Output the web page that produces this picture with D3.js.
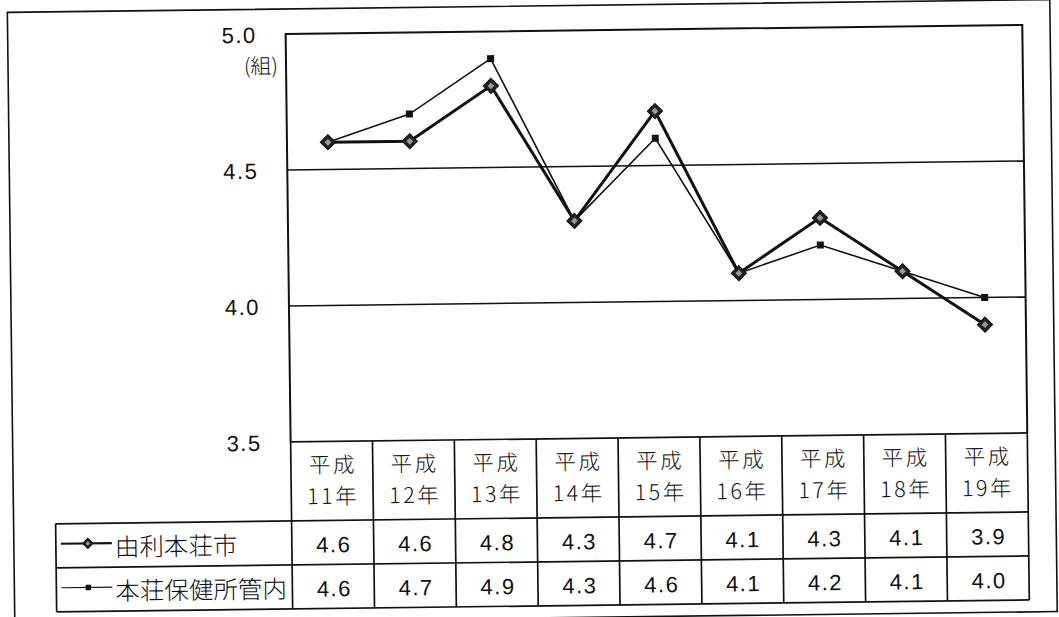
<!DOCTYPE html>
<html lang="ja">
<head>
<meta charset="utf-8">
<script src="https://cdn.jsdelivr.net/npm/d3@7"></script>
<style>
  html, body { margin: 0; padding: 0; background: #fff; }
  svg { display: block; }
  .num { font-family: "Liberation Sans", Arial, sans-serif; font-size: 22px; letter-spacing: 1.5px; fill: #111; }
  .jp { font-family: "Noto Sans CJK JP", "Noto Sans CJK SC", sans-serif; font-weight: 300; fill: #111; }
</style>
</head>
<body>
<svg id="chart" width="1059" height="617"></svg>
<script>
// 年次（平成11年〜19年）
const years = ["11年", "12年", "13年", "14年", "15年", "16年", "17年", "18年", "19年"];
const era = "平成";

// 系列名
const seriesNames = ["由利本荘市", "本荘保健所管内"];

// 1世帯あたりの値（組）
const yurihonjo = [4.6, 4.6, 4.8, 4.3, 4.7, 4.1, 4.3, 4.1, 3.9];
const honjoHC   = [4.6, 4.7, 4.9, 4.3, 4.6, 4.1, 4.2, 4.1, 4.0];

// 縦軸目盛
const yTicks = [3.5, 4.0, 4.5, 5.0];
const unitLabel = "(組)";

const svg = d3.select("#chart");
svg.append("rect").attr("width", 1059).attr("height", 617).attr("fill", "#fff");

// whole sheet sits at a slight tilt
const root = svg.append("g").attr("transform", "rotate(-0.7, 530, 308)");

const plotL = 289, plotR = 1025.7, plotT = 31, plotB = 439;
const row1T = 518, row2T = 562, tableB = 606, legendL = 53;

const x = d3.scaleBand().domain(years).range([plotL, plotR]).padding(0);
const y = d3.scaleLinear().domain([3.5, 5.0]).range([plotB, plotT]);
const bw = x.bandwidth();
const cx = d => x(d) + bw / 2;

// outer frame
root.append("rect")
  .attr("x", 11).attr("y", 6).attr("width", 1042.5).attr("height", 612)
  .attr("fill", "none").attr("stroke", "#111").attr("stroke-width", 1.6);

// horizontal gridlines
root.append("g").selectAll("line")
  .data(yTicks.filter(t => t > 3.5 && t < 5.0))
  .join("line")
  .attr("x1", plotL).attr("x2", plotR)
  .attr("y1", d => y(d)).attr("y2", d => y(d))
  .attr("stroke", "#111").attr("stroke-width", 1.5);

// plot frame
root.append("path")
  .attr("d", `M${plotL},${plotB}V${plotT}H${plotR}V${plotB}`)
  .attr("fill", "none").attr("stroke", "#111").attr("stroke-width", 2);

// y axis labels
const yAxis = d3.axisLeft(y).tickValues(yTicks).tickFormat(d3.format(".1f")).tickSize(0).tickPadding(29);
const ya = root.append("g").attr("transform", `translate(${plotL},0)`).call(yAxis);
ya.select(".domain").remove();
ya.selectAll("text").attr("class", "num").attr("font-size", null).attr("font-family", null)
  .attr("fill", null).attr("dy", "0.36em");

root.append("text").attr("class", "jp")
  .attr("x", 264).attr("y", 63).attr("dy", "0.35em")
  .attr("text-anchor", "middle").attr("font-size", 21)
  .text(unitLabel);

// data table grid
const tbl = root.append("g").attr("stroke", "#111").attr("stroke-width", 1.7).attr("fill", "none");
tbl.append("line").attr("x1", plotL).attr("x2", plotR).attr("y1", plotB).attr("y2", plotB);
[row1T, row2T, tableB].forEach(v =>
  tbl.append("line").attr("x1", legendL).attr("x2", plotR).attr("y1", v).attr("y2", v));
tbl.append("line").attr("x1", legendL).attr("x2", legendL).attr("y1", row1T).attr("y2", tableB);
tbl.selectAll("line.col").data(years.concat(["end"]))
  .join("line").attr("class", "col")
  .attr("x1", (d, i) => plotL + i * bw).attr("x2", (d, i) => plotL + i * bw)
  .attr("y1", plotB).attr("y2", tableB);

// header: era over year in each cell
const hdr = root.append("g").attr("class", "jp").attr("font-size", 21.5)
  .attr("letter-spacing", "2.5px").attr("text-anchor", "middle");
hdr.selectAll("text.era").data(years).join("text").attr("class", "era")
  .attr("x", d => cx(d) + 1).attr("y", 462.5).attr("dy", "0.35em").text(era);
hdr.selectAll("text.yr").data(years).join("text").attr("class", "yr")
  .attr("x", d => cx(d) + 1).attr("y", 494).attr("dy", "0.35em").text(d => d);

// table values
const rows = [yurihonjo, honjoHC];
const rowMid = [ (row1T + row2T) / 2 + 2, (row2T + tableB) / 2 + 2 ];
rows.forEach((vals, r) => {
  root.append("g").selectAll("text").data(vals).join("text")
    .attr("class", "num").attr("text-anchor", "middle")
    .attr("x", (d, i) => cx(years[i]) + 1).attr("y", rowMid[r]).attr("dy", "0.36em")
    .text(d => d3.format(".1f")(d));
});

// marker shapes
function diamond(g, px, py, r) {
  g.append("path")
    .attr("d", `M${px},${py - r}L${px + r},${py}L${px},${py + r}L${px - r},${py}Z`)
    .attr("fill", "#222").attr("stroke", "#111").attr("stroke-width", 1.2);
  g.append("path")
    .attr("d", `M${px},${py - r * 0.45}L${px + r * 0.45},${py}L${px},${py + r * 0.45}L${px - r * 0.45},${py}Z`)
    .attr("fill", "#9a9a9a");
}
function square(g, px, py, s) {
  g.append("rect").attr("x", px - s / 2).attr("y", py - s / 2)
    .attr("width", s).attr("height", s).attr("fill", "#111");
}

// legend cells
const legendText = root.append("g").attr("class", "jp").attr("font-size", 24.5);
const styles = [
  { width: 3, marker: (g, px, py, big) => diamond(g, px, py, big ? 7.5 : 5) },
  { width: 1.6, marker: (g, px, py, big) => square(g, px, py, big ? 7 : 5.5) }
];
seriesNames.forEach((name, r) => {
  const my = rowMid[r] - 4;
  root.append("line").attr("x1", 58).attr("x2", 109).attr("y1", my).attr("y2", my)
    .attr("stroke", "#111").attr("stroke-width", styles[r].width * 0.7);
  styles[r].marker(root, 85, my, false);
  legendText.append("text").attr("x", 112).attr("y", rowMid[r]).attr("dy", "0.36em").text(name);
});

// series lines and markers
const line = d3.line().x((d, i) => cx(years[i])).y(d => y(d));
const drawOrder = [1, 0];
drawOrder.forEach(r => {
  root.append("path").datum(rows[r]).attr("d", line)
    .attr("fill", "none").attr("stroke", "#111")
    .attr("stroke-width", styles[r].width).attr("stroke-linejoin", "miter");
});
drawOrder.forEach(r => {
  const g = root.append("g");
  rows[r].forEach((v, i) => styles[r].marker(g, cx(years[i]), y(v), true));
});
</script>
</body>
</html>
